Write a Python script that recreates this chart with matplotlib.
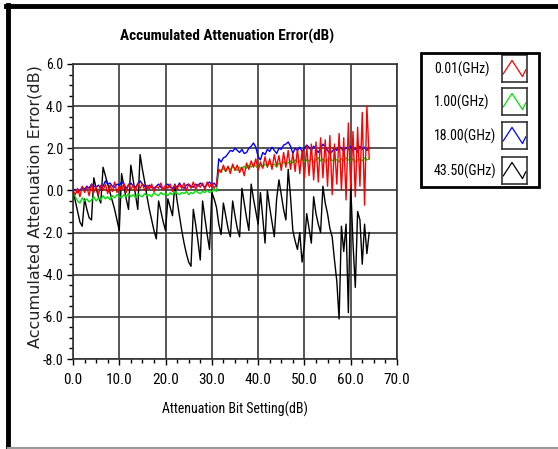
import numpy as np
import matplotlib.pyplot as plt
from matplotlib.lines import Line2D
from matplotlib.patches import Rectangle

plt.rcParams['axes.unicode_minus'] = False
NARROW = ['Liberation Sans Narrow', 'Roboto Condensed', 'DejaVu Sans']
NARROW_KW = dict(family=NARROW, fontstretch='condensed')

# attenuation bit setting (dB), 0.5 dB steps
x = np.arange(129) * 0.5

err_001 = [0.0, -0.2, 0.1, -0.3, 0.2, -0.1, 0.15, -0.25, 0.3, -0.1,
           0.2, -0.2, 0.25, 0.0, 0.3, -0.15, 0.25, -0.05, 0.4, -0.1,
           0.2, 0.0, 0.35, -0.1, 0.3, 0.05, 0.25, -0.05, 0.35, 0.1,
           0.3, 0.0, 0.25, 0.05, 0.3, -0.05, 0.2, 0.1, 0.35, 0.0,
           0.25, 0.1, 0.3, -0.05, 0.25, 0.05, 0.3, 0.1, 0.35, 0.0,
           0.3, 0.1, 0.4, 0.05, 0.3, 0.15, 0.35, 0.05, 0.4, 0.15,
           0.35, 0.1, 0.3, 1.0, 0.85, 1.2, 0.9, 1.15, 0.8, 1.25,
           0.95, 1.2, 0.85, 1.1, 0.7, 1.3, 1.0, 1.4, 1.1, 1.5,
           0.95, 1.35, 1.05, 1.6, 1.1, 1.5, 1.0, 1.7, 1.15, 1.65,
           0.95, 1.8, 1.1, 1.9, 1.0, 1.75, 0.9, 2.0, 0.8, 1.9,
           0.6, 2.1, 0.7, 2.2, 0.5, 2.3, 0.4, 2.5, 0.6, 2.4,
           0.2, 2.6, -0.2, 2.2, 0.3, 2.7, 0.0, 2.5, -0.45, 3.2,
           0.1, 2.8, -0.3, 3.0, 0.2, 3.7, -0.7, 4.0, 1.5]

err_100 = [0.0, -0.3, -0.5, -0.6, -0.35, -0.5, -0.4, -0.55, -0.45, -0.3,
           -0.5, -0.35, -0.45, -0.25, -0.4, -0.3, -0.45, -0.25, -0.35, -0.2,
           -0.3, -0.35, -0.2, -0.3, -0.15, -0.3, -0.2, -0.35, -0.15, -0.25,
           -0.3, -0.15, -0.25, -0.2, -0.3, -0.1, -0.2, -0.25, -0.1, -0.2,
           -0.15, -0.25, -0.1, -0.2, -0.05, -0.15, -0.2, -0.1, -0.15, -0.05,
           -0.2, -0.1, -0.15, 0.0, -0.1, -0.15, -0.05, -0.1, 0.0, -0.1,
           -0.05, 0.05, -0.05, 1.0, 0.95, 1.05, 0.9, 1.1, 1.0, 1.15,
           1.05, 0.95, 1.1, 1.0, 1.15, 1.05, 1.2, 1.1, 1.25, 1.15,
           1.05, 1.2, 1.1, 1.25, 1.15, 1.3, 1.2, 1.25, 1.1, 1.3,
           1.2, 1.35, 1.25, 1.3, 1.4, 1.3, 1.45, 1.35, 1.4, 1.5,
           1.35, 1.45, 1.4, 1.5, 1.35, 1.45, 1.55, 1.4, 1.5, 1.35,
           1.45, 1.55, 1.4, 1.5, 1.45, 1.35, 1.5, 1.4, 1.55, 1.45,
           1.4, 1.5, 1.35, 1.45, 1.5, 1.4, 1.55, 1.45, 1.5]

err_1800 = [0.0, 0.05, -0.1, 0.0, 0.15, 0.05, 0.2, 0.1, 0.3, 0.2,
            0.15, 0.25, 0.1, 0.2, 0.45, 0.3, 0.35, 0.2, 0.15, 0.3,
            0.25, 0.4, 0.3, 0.1, 0.25, 0.35, 0.2, 0.15, 0.3, 0.45,
            0.3, 0.2, 0.1, 0.25, 0.15, 0.1, 0.2, 0.3, 0.15, 0.05,
            0.2, 0.3, 0.15, 0.1, 0.25, 0.15, 0.35, 0.2, 0.1, 0.25,
            0.3, 0.2, 0.15, 0.3, 0.2, 0.35, 0.25, 0.15, 0.3, 0.4,
            0.25, 0.35, 0.2, 1.5, 1.35, 1.55, 1.6, 1.75, 1.9, 1.85,
            2.0, 1.9, 1.8, 1.95, 1.75, 1.8, 2.0, 2.1, 2.25, 2.05,
            1.6, 1.45, 1.8, 1.7, 1.95, 1.85, 2.05, 1.9, 1.75, 2.0,
            1.95, 2.15, 2.2, 2.3, 2.1, 1.75, 2.0, 1.9, 2.05, 1.85,
            2.0, 2.15, 2.05, 1.9, 2.1, 1.95, 1.8, 2.0, 2.2, 2.05,
            1.9, 1.75, 1.85, 2.0, 1.9, 2.1, 2.0, 1.85, 2.05, 1.95,
            2.1, 1.9, 2.0, 1.8, 2.1, 1.95, 2.05, 1.9, 2.0]

err_4350 = [0.0, -0.5, -1.0, -1.5, -1.7, -0.4, -0.9, -1.3, -1.4, 0.6,
            0.1, -0.3, -0.6, 1.1, 0.7, 0.3, -0.1, -0.5, -0.9, -1.4,
            -1.9, 0.8, 0.2, -0.4, -0.9, 1.2, 0.5, -0.2, -0.9, 1.7,
            1.0, 0.4, -0.3, -0.9, -1.4, -1.9, -2.3, -0.5, -1.0, -1.5,
            -1.9, -0.4, -0.8, -1.2, 0.3, -0.5, -1.2, -1.9, -2.5, -3.0,
            -3.4, -3.6, -0.9, -1.6, -2.4, -3.3, -0.5, -1.3, -2.1, -2.8,
            -0.1, -0.4, -0.8, -1.6, -2.1, -0.6, -1.2, -1.8, -2.2, -0.5,
            -1.2, -1.8, -2.2, 0.1, -0.6, -1.3, -1.9, 0.3, -0.4, -1.0,
            -1.6, -0.1, -1.3, -2.5, 0.0, -0.8, -1.5, -2.2, -0.4, 0.5,
            -0.2, -0.9, -1.4, 1.0, -0.3, -1.9, -2.4, -2.8, -2.0, -3.4,
            -2.6, -1.1, -1.8, -2.5, -0.3, -1.1, -1.6, -2.0, 0.2, -0.6,
            -1.1, -1.8, -2.2, -3.3, -4.3, -6.1, -1.7, -2.9, -1.6, -5.8,
            0.3, -2.5, -4.6, -1.0, -1.4, -3.5, -1.6, -3.0, -2.0]

freq_labels = ['0.01(GHz)', '1.00(GHz)', '18.00(GHz)', '43.50(GHz)']
colors = ['#ff0000', '#00e000', '#0000ff', '#000000']

fig = plt.figure(figsize=(5.58, 4.49), dpi=100)
ax = fig.add_axes([0.1308, 0.2004, 0.5806, 0.6571])

ax.plot(x, err_4350, color=colors[3], lw=1.0)
ax.plot(x, err_100, color=colors[1], lw=1.0)
ax.plot(x, err_1800, color=colors[2], lw=1.0)
ax.plot(x, err_001, color=colors[0], lw=1.0)

ax.set_xlim(0, 70)
ax.set_ylim(-8, 6)
ax.set_xticks(np.arange(0, 71, 10))
ax.set_yticks(np.arange(-8, 7, 2))
ax.set_xticks(np.arange(0, 70.1, 2.5), minor=True)
ax.set_yticks(np.arange(-8, 6.1, 0.5), minor=True)
ax.set_xticklabels(['%.1f' % v for v in np.arange(0, 71, 10)])
ax.set_yticklabels(['%.1f' % v for v in np.arange(-8, 7, 2)])
ax.grid(True, which='major', color='#3a3a3a', lw=1.2)
ax.set_axisbelow(True)
ax.tick_params(which='major', length=4, width=1, pad=3)
ax.tick_params(axis='x', which='major', pad=6)
ax.tick_params(which='minor', length=3, width=1)
for lab in ax.get_xticklabels():
    lab.set_family(NARROW)
    lab.set_stretch('condensed')
    lab.set_fontsize(11)
for lab in ax.get_yticklabels():
    lab.set_family(NARROW)
    lab.set_stretch('condensed')
    lab.set_fontsize(10)
for sp in ax.spines.values():
    sp.set_color('#333333')
    sp.set_linewidth(1.2)

fig.text(0.407, 0.918, 'Accumulated Attenuation Error(dB)', ha='center', va='center',
         fontsize=11, fontweight='bold', **NARROW_KW)
fig.text(0.421, 0.089, 'Attenuation Bit Setting(dB)', ha='center', va='center',
         fontsize=10, **NARROW_KW)
fig.text(0.063, 0.541, 'Accumulated Attenuation Error(dB)', ha='center', va='center',
         rotation=90, fontsize=11.5, color='#222222')

# legend panel
fig.patches.append(Rectangle((421 / 558, 1 - 187 / 449), 118 / 558, 134 / 449,
                             transform=fig.transFigure, fill=False, ec='black', lw=2))
row_y = [69, 102, 136, 171]
for lab, col, yy in zip(freq_labels, colors, row_y):
    fig.text(434 / 558, 1 - yy / 449, lab, ha='left', va='center', fontsize=10, **NARROW_KW)
    sw = fig.add_axes([502 / 558, 1 - (yy + 13) / 449, 25 / 558, 27 / 449])
    sw.plot([0.05, 0.4, 0.82, 0.95], [0.3, 0.8, 0.2, 0.45], color=col, lw=0.9)
    sw.set_xlim(0, 1)
    sw.set_ylim(0, 1)
    sw.set_xticks([])
    sw.set_yticks([])
    for sp in sw.spines.values():
        sp.set_color('#333333')
        sp.set_linewidth(1.2)

# outer frame
fig.add_artist(Line2D([8 / 558, 8 / 558], [0, 1 - 5 / 449], color='black', lw=3.5))
fig.add_artist(Line2D([6 / 558, 1], [1 - 6 / 449, 1 - 6 / 449], color='black', lw=3.5))
fig.add_artist(Line2D([8 / 558, 1], [1.5 / 449, 1.5 / 449], color='#999999', lw=1.5))

fig.savefig('out.png', dpi=100)
